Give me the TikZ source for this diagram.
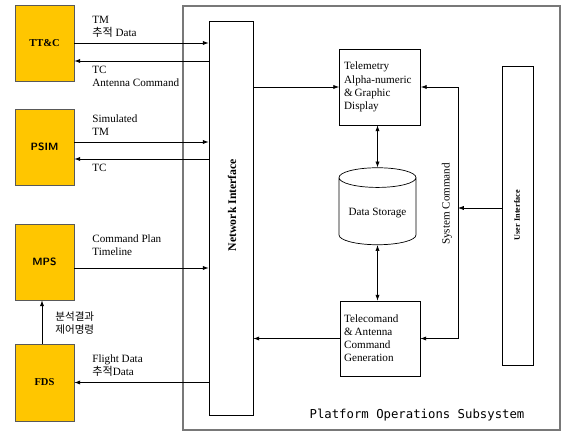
\documentclass[tikz,border=0pt]{standalone}
\usepackage{fontspec}
\setmainfont{Liberation Serif}
\newfontfamily\kr{Noto Sans CJK KR}
\newfontfamily\gul{DejaVu Sans Mono}
\usepackage{tikz}
\usetikzlibrary{arrows.meta,positioning,shapes.geometric}
\usepackage{xcolor}
\definecolor{opsyellow}{RGB}{255,198,0}
\definecolor{framegray}{RGB}{120,120,120}

\tikzset{
  extbox/.style={draw=black!65, fill=opsyellow, minimum width=1.77cm, minimum height=2.28cm, font=\bfseries\fontsize{9}{10}\selectfont},
  intbox/.style={draw, fill=white, align=left, inner sep=0pt, font=\fontsize{9.5}{11.2}\selectfont},
  lbl/.style={anchor=west, align=left, inner sep=0pt, font=\fontsize{9.5}{11.2}\selectfont},
  arr/.style={-{Latex[length=5pt,width=3.6pt]}},
  darr/.style={{Latex[length=5pt,width=3.6pt]}-{Latex[length=5pt,width=3.6pt]}},
}

\begin{document}
\begin{tikzpicture}[x=0.03cm, y=-0.03cm, line width=0.6pt]
        \useasboundingbox (0,0) rectangle (562,432);
        % platform frame
        \draw[framegray, line width=1.2pt] (183,6) rectangle (560,430);
        \node[font=\gul\fontsize{10.5}{12}\selectfont] (pos) at (417,415) {Platform Operations Subsystem};

        % external systems
        \node[extbox] (ttc) at (44.5,43) {TT\&C};
        \node[extbox, font=\bfseries\sffamily\fontsize{9}{10}\selectfont] (psim) at (44.5,147) {PSIM};
        \node[extbox, font=\bfseries\sffamily\fontsize{9}{10}\selectfont] (mps) at (44.5,262) {MPS};
        \node[extbox, minimum height=2.31cm] (fds) at (44.5,382.5) {FDS};

        % inside the subsystem
        \node[draw, fill=white, minimum width=1.32cm, minimum height=11.82cm] (ni) at (231,218) {};
        \node[rotate=90, font=\bfseries\fontsize{10}{12}\selectfont] at (232,205) {Network Interface};
        \node[intbox, minimum width=2.43cm, minimum height=2.28cm, text width=2.15cm] (tm) at (380,87) {Telemetry\\Alpha-numeric\\\&\,Graphic\\Display};
        \node[cylinder, shape border rotate=90, draw, aspect=0.3, minimum width=2.31cm, minimum height=2.31cm, font=\fontsize{9.5}{11}\selectfont] (ds) at (377.5,213.5) {Data Storage};
        \node[intbox, minimum width=2.4cm, minimum height=2.25cm, text width=2.15cm] (tc) at (380,338.5) {Telecomand\\\&\,Antenna\\Command\\Generation};
        \node[draw, fill=white, minimum width=0.93cm, minimum height=8.97cm] (ui) at (517.5,215.5) {};
        \node[rotate=90, font=\bfseries\fontsize{7}{8}\selectfont] at (517,215) {User Interface};

        % external links
        \draw[arr] (ttc.east) -- (ni.west |- ttc.east);
        \draw[arr] (ni.west |- 0,61) -- (ttc.east |- 0,61);
        \draw[arr] (psim.east |- 0,142) -- (ni.west |- 0,142);
        \draw[arr] (ni.west |- 0,159) -- (psim.east |- 0,159);
        \draw[arr] (mps.east |- 0,268) -- (ni.west |- 0,268);
        \draw[arr] (ni.west |- fds.east) -- (fds.east);
        \draw[arr] (fds.north -| 42,0) -- (mps.south -| 42,0);

        \node[lbl] (l1) at (92,27) {TM\\{\kr 추적} Data};
        \node[lbl] (l2) at (92,76) {TC\\Antenna Command};
        \node[lbl] (l3) at (92,125.5) {Simulated\\TM};
        \node[lbl] (l4) at (92,168) {TC};
        \node[lbl] (l5) at (92,245.5) {Command Plan\\Timeline};
        \node[lbl, font=\kr\fontsize{9}{11.5}\selectfont] (l6) at (55,323) {분석결과\\제어명령};
        \node[lbl] (l7) at (92,365.5) {Flight Data\\{\kr 추적}Data};

        % internal links
        \draw[arr] (ni.east |- tm.west) -- (tm.west);
        \draw[arr] (tc.west) -- (ni.east |- tc.west);
        \draw[darr] (tm.south -| ds.top) -- (ds.top);
        \draw[darr] (ds.bottom) -- (tc.north -| ds.bottom);
        \coordinate (bus) at (458,208);
        \draw[arr] (ui.west |- bus) -- (bus);
        \draw[arr] (bus) |- (tm.east);
        \draw[arr] (bus) |- (tc.east);
        \node[rotate=90, font=\fontsize{9.5}{11}\selectfont] (sc) at (447,204) {System Command};
      \end{tikzpicture}
\end{document}
